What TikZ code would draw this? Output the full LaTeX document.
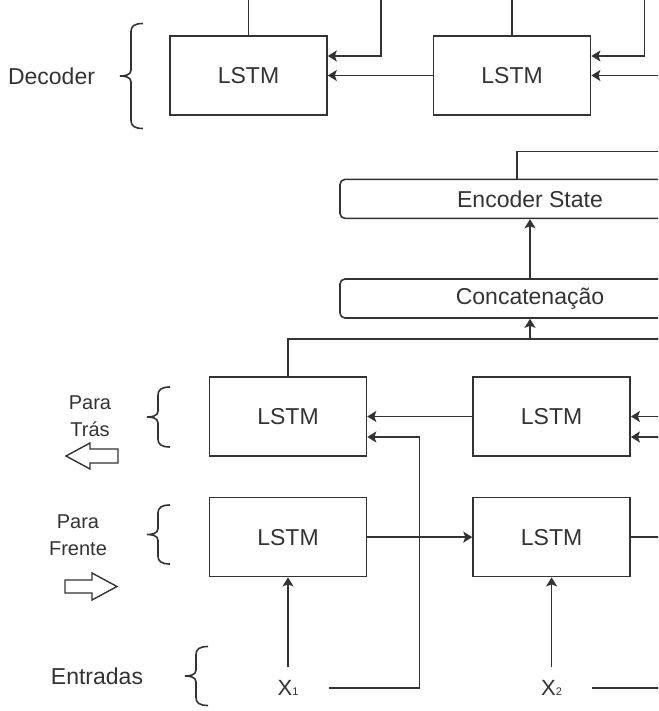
\documentclass[tikz,border=0pt]{standalone}
\usepackage{fontspec}
\setmainfont{Liberation Sans}
\usepackage{tikz}
\usetikzlibrary{arrows.meta,calc,positioning}
\definecolor{ink}{HTML}{333333}
\newcommand{\curly}[2]{% tip at #1, half height #2
  \draw[shift={(#1)}] (23,-#2) .. controls (14,-#2) and (11,-#2+3) .. (11,-#2+8) -- (11,-6)
    .. controls (11,-1) and (5,0) .. (0,0) .. controls (5,0) and (11,1) .. (11,6)
    -- (11,#2-8) .. controls (11,#2-3) and (14,#2) .. (23,#2);}

\begin{document}
\begin{tikzpicture}[x=1pt,y=-1pt,line width=1.6pt,color=ink,
  lstm/.style={draw,minimum width=157pt,minimum height=79pt,inner sep=0pt,font=\fontsize{23}{27}\selectfont},
  stage/.style={draw,rounded corners=5pt,minimum width=380pt,minimum height=39pt,inner sep=0pt,font=\fontsize{23}{27}\selectfont},
  side/.style={font=\fontsize{23}{27}\selectfont},
  dir/.style={align=center,font=\fontsize{20}{27}\selectfont},
  inp/.style={minimum width=80pt,minimum height=40pt,inner sep=0pt,font=\fontsize{22}{26}\selectfont},
  >={Stealth[length=9pt,width=11pt,inset=2pt]}]
  \useasboundingbox (0,0) rectangle (658,711);
  \clip (0,0) rectangle (658,711);

  % decoder
  \node[lstm] (dec1) at (248.5,75.5) {LSTM};
  \node[lstm,right=105pt of dec1] (dec2) {LSTM};
  \node[side] (lblDec) at (51.5,76) {Decoder};
  \curly{120,76}{52.5}
  \draw (dec1.north) -- ++(0,-50);
  \draw (dec2.north) -- ++(0,-50);
  \draw[<-] ([yshift=19.5pt]dec1.east) -| ++(53,-80);
  \draw[<-] ([yshift=19.5pt]dec2.east) -| ++(53,-80);
  \draw[->] (dec2) -- (dec1);
  \draw[<-] (dec2.east) -- ++(80,0);

  % encoder state
  \node[stage] (concat) at (530,298.5) {Concatenação};
  \node[stage,above=59pt of concat] (encst) {Encoder State};
  \draw ([xshift=-13pt]encst.north) |- ++(200,-27);
  \draw[->] (concat) -- (encst);

  % bidirectional layer
  \node[lstm] (bw1) at (288,416.5) {LSTM};
  \node[lstm,right=105pt of bw1] (bw2) {LSTM};
  \node[lstm,below=40pt of bw1] (fw1) {LSTM};
  \node[lstm,right=105pt of fw1] (fw2) {LSTM};
  \node[inp,below=90pt of fw1] (x1) {X{\fontsize{11}{11}\selectfont 1}};
  \node[inp] (x2) at (x1 -| fw2) {X{\fontsize{11}{11}\selectfont 2}};

  \coordinate (merge) at ([yshift=-20pt]concat.south);
  \draw (bw1.north) |- (merge) -- ++(200,0);
  \draw[->] (merge) -- (concat);

  \draw[->] (bw2) -- (bw1);
  \draw[<-] (bw2.east) -- ++(40,0);
  \draw[<-] ([yshift=-20.5pt]bw2.east) -- ++(40,0);
  \draw[->] (fw1) -- (fw2);
  \draw (fw2.east) -- ++(40,0);
  \draw[->] (x1) -- (fw1);
  \draw[->] (x2) -- (fw2);
  \draw[->] (x1.east) -| ([xshift=52pt,yshift=-20.5pt]bw1.east) -- ([yshift=-20.5pt]bw1.east);
  \draw (x2.east) -- ++(80,0);

  % side labels
  \node[dir] (lblBack) at (90,416.5) {Para\\Trás};
  \node[dir] (lblFwd) at (78,535) {Para\\Frente};
  \node[side] (lblIn) at (97,676) {Entradas};
  \curly{147,417}{30}
  \curly{147,534.5}{29.5}
  \curly{185,676}{29.5}
  \draw[line width=1.4pt] (118,449) -- (90,449) -- (90,443) -- (66,456) -- (90,469) -- (90,463) -- (118,463) -- cycle;
  \draw[line width=1.4pt] (65,580) -- (92,580) -- (92,573) -- (117,586.5) -- (92,600) -- (92,593) -- (65,593) -- cycle;
\end{tikzpicture}
\end{document}
